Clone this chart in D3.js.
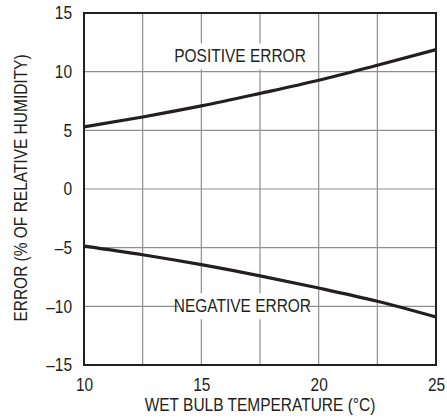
<!DOCTYPE html>
<html>
<head>
<meta charset="utf-8">
<script src="https://cdn.jsdelivr.net/npm/d3@7"></script>
<style>
  html, body { margin: 0; padding: 0; background: #fff; }
  svg text { font-family: "Liberation Sans Narrow", "Arial Narrow", "Liberation Sans", Arial, sans-serif; fill: #231f20; }
</style>
</head>
<body>
<svg id="chart" width="447" height="419"></svg>
<script>
// Data
const temperatures = [10, 12.5, 15, 17.5, 20, 22.5, 25];
const positiveError = [5.29, 6.14, 7.08, 8.15, 9.27, 10.55, 11.88];
const negativeError = [-4.86, -5.6, -6.45, -7.4, -8.44, -9.57, -10.91];
const xTickLabels = [10, 15, 20, 25];
const yTickLabels = [-15, -10, -5, 0, 5, 10, 15];
const xGrid = [12.5, 15, 17.5, 20, 22.5];
const yGrid = [-10, -5, 0, 5, 10];
const xTitle = "WET BULB TEMPERATURE (°C)";
const yTitle = "ERROR (% OF RELATIVE HUMIDITY)";
const annotations = [
  { text: "POSITIVE ERROR", x: 16.65, y: 11.3 },
  { text: "NEGATIVE ERROR", x: 16.75, y: -10 }
];

(function () {
const svg = d3.select("#chart");
const mLeft = 84, mRight = 436, mTop = 13, mBottom = 365;
const x = d3.scaleLinear().domain([10, 25]).range([mLeft, mRight]);
const y = d3.scaleLinear().domain([-15, 15]).range([mBottom, mTop]);
const fmt = v => (v < 0 ? "\u2013" + Math.abs(v) : String(v));
const FONT = '"Liberation Sans Narrow", "Arial Narrow", "Liberation Sans", Arial, sans-serif';
const SQUEEZE = 0.86;
function condense(sel) {
  sel.each(function () {
    const w = this.getComputedTextLength();
    d3.select(this).attr("textLength", w * SQUEEZE).attr("lengthAdjust", "spacingAndGlyphs");
  });
}

// gridlines
svg.append("g").selectAll("line").data(xGrid).join("line")
  .attr("x1", d => x(d)).attr("x2", d => x(d))
  .attr("y1", mTop).attr("y2", mBottom)
  .attr("stroke", "#8f8f8f").attr("stroke-width", 1.2);
svg.append("g").selectAll("line").data(yGrid).join("line")
  .attr("y1", d => y(d)).attr("y2", d => y(d))
  .attr("x1", mLeft).attr("x2", mRight)
  .attr("stroke", "#8f8f8f").attr("stroke-width", 1.2);

// axes (labels only, no tick marks)
const xAxis = d3.axisBottom(x).tickValues(xTickLabels).tickSize(0).tickPadding(13).tickFormat(fmt);
const yAxis = d3.axisLeft(y).tickValues(yTickLabels).tickSize(0).tickPadding(12).tickFormat(fmt);
const gx = svg.append("g").attr("transform", `translate(0,${mBottom})`).call(xAxis);
const gy = svg.append("g").attr("transform", `translate(${mLeft},0)`).call(yAxis);
[gx, gy].forEach(g => {
  g.select(".domain").remove();
  g.attr("font-family", null).attr("font-size", null);
  g.selectAll("text").attr("font-size", 18).attr("fill", "#231f20").style("font-family", FONT).call(condense);
});

// annotations with white background
annotations.forEach(a => {
  const g = svg.append("g");
  const rect = g.append("rect").attr("fill", "#fff");
  const t = g.append("text").text(a.text)
    .attr("x", x(a.x)).attr("y", y(a.y))
    .attr("text-anchor", "middle").attr("dominant-baseline", "central")
    .attr("font-size", 18).call(condense);
  const w = t.node().getComputedTextLength() * SQUEEZE;
  rect.attr("x", x(a.x) - w / 2 - 5).attr("width", w + 10)
      .attr("y", y(a.y) - 13).attr("height", 26);
});

// curves
const line = d3.line().curve(d3.curveMonotoneX)
  .x((d, i) => x(temperatures[i])).y(d => y(d));
[positiveError, negativeError].forEach(series => {
  svg.append("path").datum(series).attr("d", line)
    .attr("fill", "none").attr("stroke", "#231f20").attr("stroke-width", 3.2);
});

// frame
svg.append("rect").attr("x", mLeft).attr("y", mTop)
  .attr("width", mRight - mLeft).attr("height", mBottom - mTop)
  .attr("fill", "none").attr("stroke", "#231f20").attr("stroke-width", 2);

// titles
svg.append("text").text(xTitle)
  .attr("x", (mLeft + mRight) / 2).attr("y", 411)
  .attr("text-anchor", "middle").attr("font-size", 18).call(condense);
svg.append("text").text(yTitle)
  .attr("transform", `translate(27,${y(0) - 1}) rotate(-90)`)
  .attr("text-anchor", "middle").attr("font-size", 18).call(condense);
})();
</script>
</body>
</html>
